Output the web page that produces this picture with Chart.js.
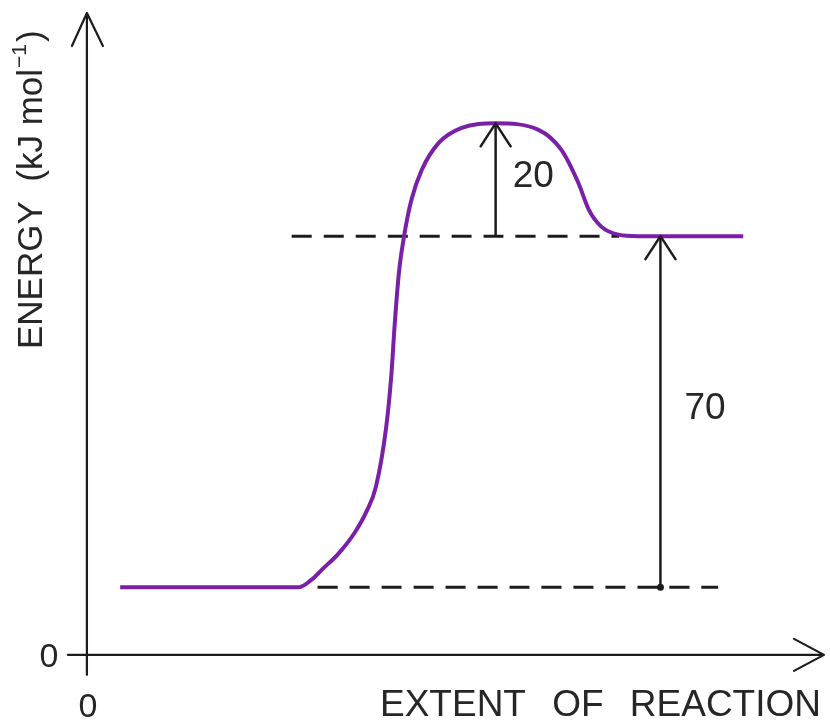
<!DOCTYPE html>
<html>
<head>
<meta charset="utf-8">
<script src="https://cdn.jsdelivr.net/npm/chart.js@4.4.1/dist/chart.umd.min.js"></script>
<style>
  html, body { margin: 0; padding: 0; background: #ffffff; }
  #wrap { width: 830px; height: 722px; position: relative; }
</style>
</head>
<body>
<div id="wrap"><canvas id="c"></canvas></div>
<script>
// ---- data (extent of reaction, energy in kJ mol^-1) ----
const curveExtent = [4.5, 28.7, 30.4, 31.8, 34.1, 36.2, 37.8, 39.1, 40.5, 41.2, 41.65, 42.2, 42.9, 43.9, 45.3, 47.6, 50.7, 55.3, 61.1, 64.2, 66.5, 67.9, 69.6, 71.9, 74.6, 88.8];
const curveEnergy = [13.5, 13.5, 15.0, 17.0, 20.3, 24.3, 28.5, 33.5, 45.5, 56.0, 66.0, 76.0, 83.4, 90.7, 96.7, 102.1, 105.1, 106.0, 104.7, 100.7, 94.1, 88.8, 85.4, 83.8, 83.5, 83.5];

const reactantEnergy = 13.5;
const productEnergy = 83.5;
const peakEnergy = 106.0;

const productDashExtent = [27.7, 72.0];
const reactantDashExtent = [31.2, 85.4];

const activationArrowExtent = 55.3;
const enthalpyArrowExtent = 77.6;

const activationLabel = "20";
const enthalpyLabel = "70";

const xTitleWords = ["EXTENT", "OF", "REACTION"];
const yTitleMain = "ENERGY  (kJ mol";
const yTitleSup = "\u22121";
const yTitleEnd = ")";
const originLabel = "0";

// ---- build datasets ----
const pts = (xs, ys) => xs.map((x, i) => ({ x: x, y: ys[i] }));

const INK = '#1c1c1c';
const PURPLE = '#7a1fa8';

const datasets = [
  {
    label: 'profile',
    data: pts(curveExtent, curveEnergy),
    borderColor: PURPLE,
    borderWidth: 4,
    pointRadius: 0,
    cubicInterpolationMode: 'monotone',
    fill: false
  },
  {
    label: 'product level',
    data: pts(productDashExtent, [productEnergy, productEnergy]),
    borderColor: INK,
    borderWidth: 3,
    borderDash: [20, 12],
    pointRadius: 0
  },
  {
    label: 'reactant level',
    data: pts(reactantDashExtent, [reactantEnergy, reactantEnergy]),
    borderColor: INK,
    borderWidth: 3,
    borderDash: [20, 12],
    pointRadius: 0
  },
  {
    label: 'activation',
    data: pts([activationArrowExtent, activationArrowExtent], [productEnergy, peakEnergy]),
    borderColor: INK,
    borderWidth: 2.5,
    pointRadius: 0,
    arrowHead: true,
    arrowText: activationLabel,
    textDx: 17
  },
  {
    label: 'enthalpy',
    data: pts([enthalpyArrowExtent, enthalpyArrowExtent], [reactantEnergy, productEnergy]),
    borderColor: INK,
    borderWidth: 2.5,
    pointRadius: [3.5, 0],
    pointBackgroundColor: INK,
    pointBorderWidth: 0,
    arrowHead: true,
    arrowText: enthalpyLabel,
    textDx: 24
  }
];

const TEXT_FONT = '"Liberation Sans", Arial, sans-serif';
const TEXT_COLOR = '#262626';

const diagramPlugin = {
  id: 'diagram',
  beforeDatasetsDraw(chart) {
    const ctx = chart.ctx;
    const xs = chart.scales.x, ys = chart.scales.y;
    const x0 = xs.getPixelForValue(0), y0 = ys.getPixelForValue(0);
    ctx.save();
    ctx.strokeStyle = INK;
    ctx.lineWidth = 2.2;
    ctx.lineCap = 'round';
    ctx.lineJoin = 'round';
    // y axis
    const yTop = ys.top;
    ctx.beginPath();
    ctx.moveTo(x0, y0 + 20);
    ctx.lineTo(x0, yTop);
    ctx.moveTo(x0 - 15, yTop + 33);
    ctx.lineTo(x0, yTop);
    ctx.lineTo(x0 + 16, yTop + 33);
    ctx.stroke();
    // x axis
    const xEnd = xs.right - 2;
    ctx.beginPath();
    ctx.moveTo(x0 - 19, y0);
    ctx.lineTo(xEnd, y0);
    ctx.moveTo(xEnd - 30, y0 - 16);
    ctx.lineTo(xEnd, y0);
    ctx.lineTo(xEnd - 30, y0 + 16);
    ctx.stroke();

    // origin labels
    ctx.fillStyle = TEXT_COLOR;
    ctx.font = '34px ' + TEXT_FONT;
    ctx.textAlign = 'center';
    ctx.textBaseline = 'alphabetic';
    ctx.fillText(originLabel, x0 - 38, y0 + 12);
    ctx.fillText(originLabel, x0 + 1, y0 + 62);

    // x title, right-aligned to axis end, spread across 441px
    ctx.font = '37px ' + TEXT_FONT;
    ctx.textAlign = 'left';
    const widths = xTitleWords.map(w => ctx.measureText(w).width);
    const totalW = 441;
    const gap = (totalW - widths.reduce((a, b) => a + b, 0)) / (xTitleWords.length - 1);
    let tx = xEnd - 3 - totalW;
    xTitleWords.forEach((w, i) => {
      ctx.fillText(w, tx, y0 + 61);
      tx += widths[i] + gap;
    });

    // y title (rotated)
    ctx.save();
    ctx.translate(x0 - 45, 349);
    ctx.rotate(-Math.PI / 2);
    ctx.textAlign = 'left';
    ctx.font = '35px ' + TEXT_FONT;
    ctx.fillText(yTitleMain, 0, 0);
    let w1 = ctx.measureText(yTitleMain).width;
    ctx.font = '21px ' + TEXT_FONT;
    ctx.fillText(yTitleSup, w1 + 1, -16);
    let w2 = ctx.measureText(yTitleSup).width;
    ctx.font = '35px ' + TEXT_FONT;
    ctx.fillText(yTitleEnd, w1 + w2 + 3, 0);
    ctx.restore();

    ctx.restore();
  },
  afterDatasetsDraw(chart) {
    const ctx = chart.ctx;
    ctx.save();
    chart.data.datasets.forEach((ds, i) => {
      if (!ds.arrowHead) return;
      const meta = chart.getDatasetMeta(i);
      const p0 = meta.data[0], p1 = meta.data[meta.data.length - 1];
      ctx.strokeStyle = INK;
      ctx.lineWidth = 2.5;
      ctx.lineCap = 'round';
      ctx.lineJoin = 'round';
      ctx.beginPath();
      ctx.moveTo(p1.x - 15, p1.y + 23);
      ctx.lineTo(p1.x, p1.y);
      ctx.lineTo(p1.x + 15, p1.y + 23);
      ctx.stroke();
      // label
      ctx.fillStyle = TEXT_COLOR;
      ctx.font = '37px ' + TEXT_FONT;
      ctx.textAlign = 'left';
      ctx.textBaseline = 'middle';
      ctx.fillText(ds.arrowText, p1.x + ds.textDx, (p0.y + p1.y) / 2 - 3);
    });
    ctx.restore();
  }
};

new Chart(document.getElementById('c'), {
  type: 'line',
  data: { datasets: datasets },
  options: {
    responsive: true,
    maintainAspectRatio: false,
    animation: false,
    devicePixelRatio: 1,
    layout: { padding: { left: 13, right: 2, top: 13, bottom: 17 } },
    plugins: { legend: { display: false }, tooltip: { enabled: false } },
    scales: {
      x: { type: 'linear', min: -10, max: 100, display: false },
      y: { type: 'linear', min: -10, max: 128, display: false }
    },
    elements: { line: { tension: 0.4 } }
  },
  plugins: [diagramPlugin]
});
</script>
</body>
</html>
